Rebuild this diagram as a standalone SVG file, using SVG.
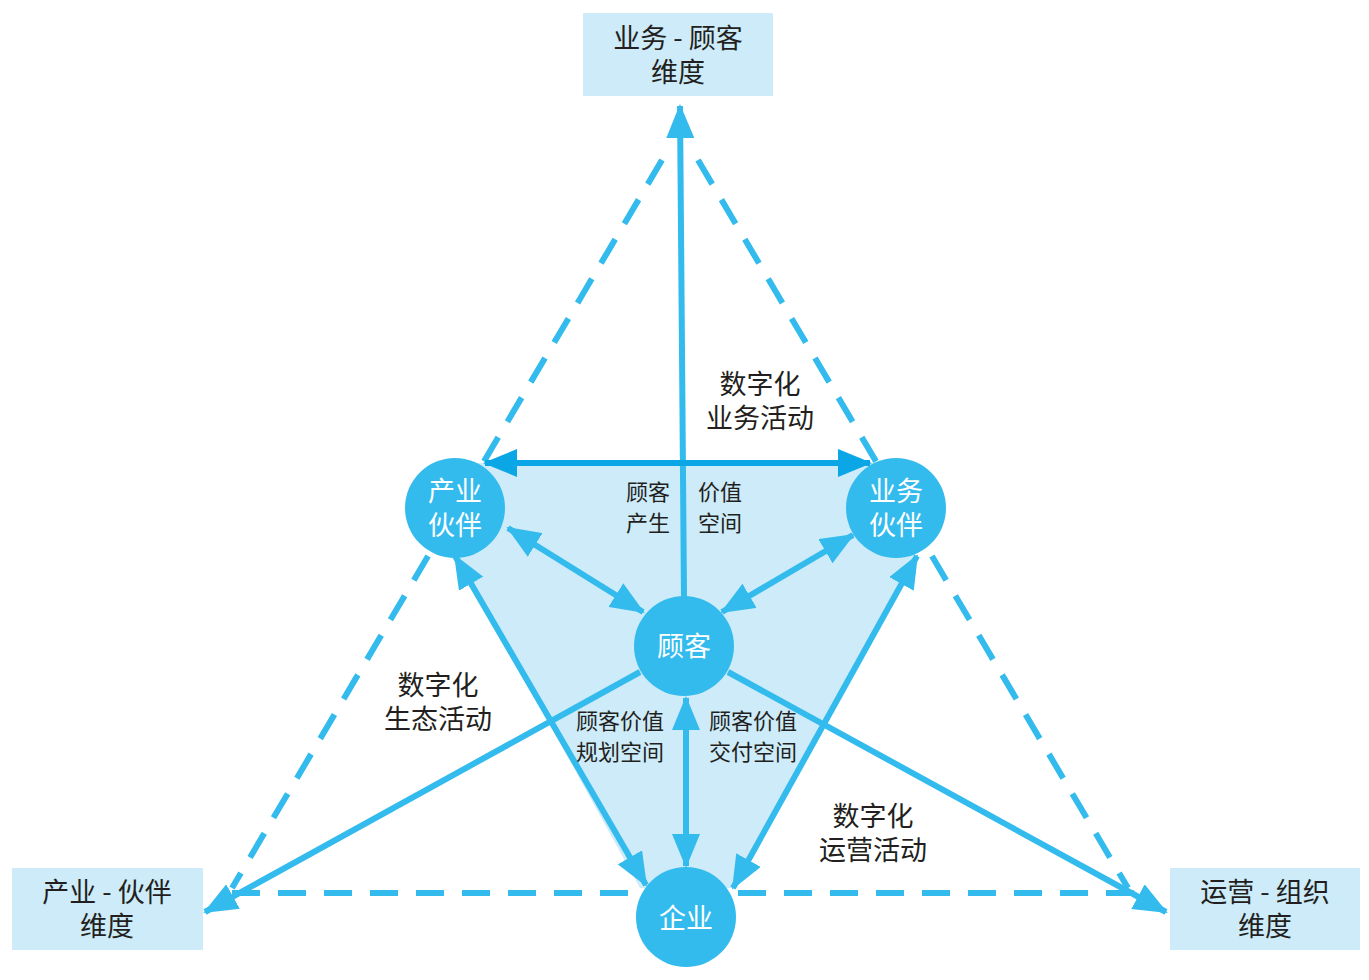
<svg xmlns="http://www.w3.org/2000/svg" width="1369" height="980" viewBox="0 0 1369 980">
<style>
.b{fill:#cdebf8}
.t{font-family:"Noto Sans CJK SC","Noto Sans",sans-serif;fill:#231f20;text-anchor:middle}
.w{font-family:"Noto Sans CJK SC","Noto Sans",sans-serif;fill:#fff;text-anchor:middle;font-size:27px}
.c{fill:#33bbee}
.a{stroke:#33bbee;stroke-width:6;fill:none;marker-end:url(#h)}
.d{stroke:#33bbee;stroke-width:6;fill:none;marker-start:url(#hs);marker-end:url(#h)}
.ds{stroke:#33bbee;stroke-width:6;fill:none;stroke-dasharray:28 18}
</style>
<defs>
<marker id="h" markerUnits="userSpaceOnUse" markerWidth="34" markerHeight="28" refX="32" refY="14" orient="auto"><path d="M0,0L34,14L0,28z" fill="#33bbee"/></marker>
<marker id="hs" markerUnits="userSpaceOnUse" markerWidth="34" markerHeight="28" refX="2" refY="14" orient="auto"><path d="M34,0L0,14L34,28z" fill="#33bbee"/></marker>
<marker id="h2" markerUnits="userSpaceOnUse" markerWidth="34" markerHeight="28" refX="32" refY="14" orient="auto"><path d="M0,0L34,14L0,28z" fill="#0aa6e6"/></marker>
<marker id="hs2" markerUnits="userSpaceOnUse" markerWidth="34" markerHeight="28" refX="2" refY="14" orient="auto"><path d="M34,0L0,14L34,28z" fill="#0aa6e6"/></marker>
</defs>
<polygon points="470,463 880,463 922,540 735,888 640,888 448,540" fill="#cdebf8"/>
<g id="connectors">
<path class="ds" d="M662,160L232,888"/>
<path class="ds" d="M698,160L1128,888"/>
<path class="ds" d="M232,893L1140,893"/>
<path class="a" d="M684,597L680,106"/>
<path d="M485,463L870,463" stroke="#0aa6e6" stroke-width="6" marker-start="url(#hs2)" marker-end="url(#h2)"/>
<path class="d" d="M508,528L643,612"/>
<path class="d" d="M853,535L722,612"/>
<path class="d" d="M455,556L646,885"/>
<path class="d" d="M917,556L733,888"/>
<path class="d" d="M686,698L686,866"/>
<path class="a" d="M640,672L205,912"/>
<path class="a" d="M728,672L1166,912"/>
</g>
<g id="n-top"><rect x="583" y="13" width="190" height="83" class="b"/><text class="t" font-size="27" x="678" y="48">业务 - 顾客</text><text class="t" font-size="27" x="678" y="82">维度</text></g>
<g id="n-left"><rect x="12" y="868" width="191" height="82" class="b"/><text class="t" font-size="27" x="107" y="902">产业 - 伙伴</text><text class="t" font-size="27" x="107" y="936">维度</text></g>
<g id="n-right"><rect x="1170" y="868" width="190" height="82" class="b"/><text class="t" font-size="27" x="1265" y="902">运营 - 组织</text><text class="t" font-size="27" x="1265" y="936">维度</text></g>
<g id="n-cy"><circle cx="455" cy="508" r="50" class="c"/><text class="w" x="455" y="501">产业</text><text class="w" x="455" y="535">伙伴</text></g>
<g id="n-yw"><circle cx="896" cy="508" r="50" class="c"/><text class="w" x="896" y="501">业务</text><text class="w" x="896" y="535">伙伴</text></g>
<g id="n-gk"><circle cx="684" cy="646" r="50" class="c"/><text class="w" x="684" y="656">顾客</text></g>
<g id="n-qy"><circle cx="686" cy="917" r="50" class="c"/><text class="w" x="686" y="928">企业</text></g>
<g id="labels">
<text class="t" font-size="27" x="760" y="394">数字化</text><text class="t" font-size="27" x="760" y="428">业务活动</text>
<text class="t" font-size="27" x="438" y="695">数字化</text><text class="t" font-size="27" x="438" y="729">生态活动</text>
<text class="t" font-size="27" x="873" y="826">数字化</text><text class="t" font-size="27" x="873" y="860">运营活动</text>
<text class="t" font-size="22" x="648" y="500">顾客</text><text class="t" font-size="22" x="648" y="531">产生</text>
<text class="t" font-size="22" x="720" y="500">价值</text><text class="t" font-size="22" x="720" y="531">空间</text>
<text class="t" font-size="22" x="620" y="729">顾客价值</text><text class="t" font-size="22" x="620" y="760">规划空间</text>
<text class="t" font-size="22" x="753" y="729">顾客价值</text><text class="t" font-size="22" x="753" y="760">交付空间</text>
</g>
</svg>
